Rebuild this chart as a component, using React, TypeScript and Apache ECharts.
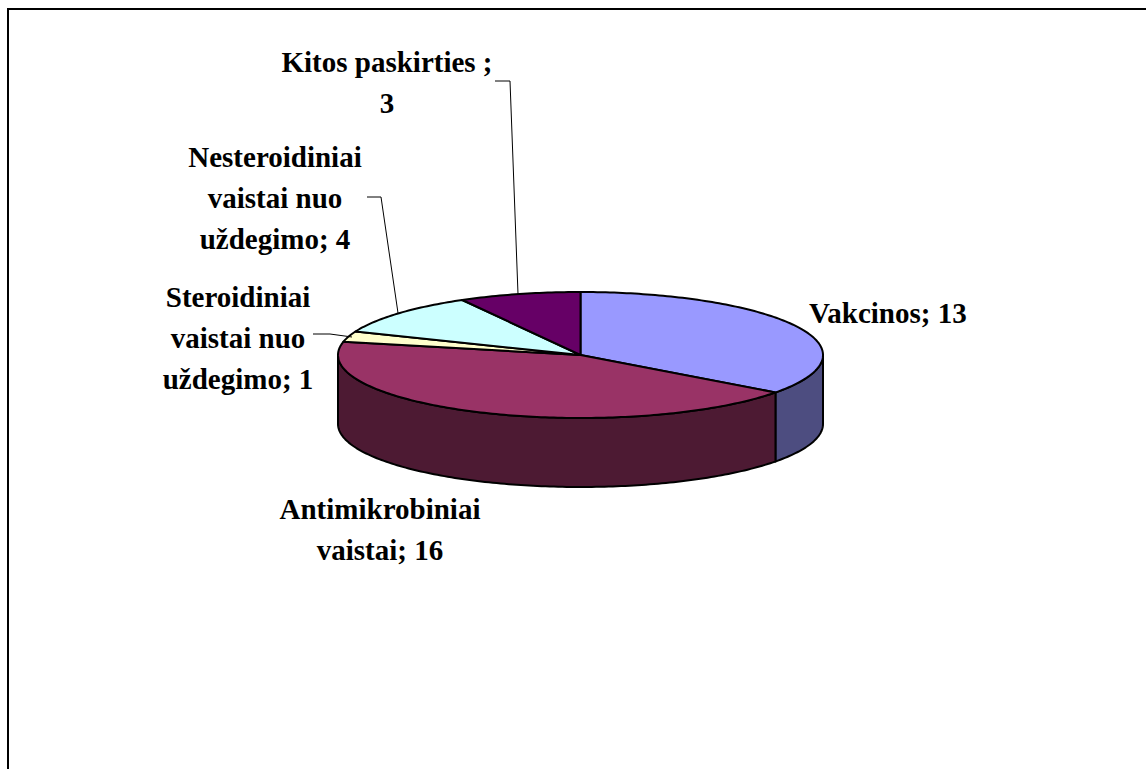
import React, { useEffect, useRef } from "react";
import * as echarts from "echarts";

const categories = ["Vakcinos", "Antimikrobiniai vaistai", "Steroidiniai vaistai nuo uždegimo", "Nesteroidiniai vaistai nuo uždegimo", "Kitos paskirties "];
const values = [13, 16, 1, 4, 3];
const labelTexts = ["Vakcinos; 13", "Antimikrobiniai\nvaistai; 16", "Steroidiniai\nvaistai nuo\nuždegimo; 1", "Nesteroidiniai\nvaistai nuo\nuždegimo; 4", "Kitos paskirties ;\n3"];
const topColors = ["#9999FF", "#993366", "#FFFFCC", "#CCFFFF", "#660066"];
const sideColors = ["#4D4D80", "#4D1A33", "#80806A", "#6A8080", "#330033"];

const CX = 580.5, CY = 355, RX = 242.5, RY = 63, DEPTH = 69;
const labelPos: [number, number, string][] = [
  [809, 312, "left"],
  [380, 508, "center"],
  [238, 296, "center"],
  [275, 156, "center"],
  [387, 61, "center"],
];
const leaders: ([number, number][] | null)[] = [
  null,
  null,
  [[313, 334], [330, 334], [352, 337]],
  [[367, 197], [381, 197], [398, 313]],
  [[495, 81], [510, 81], [518, 294]],
];

const total = values.reduce((a, b) => a + b, 0);
const startDeg = (i: number) => (values.slice(0, i).reduce((a, b) => a + b, 0) / total) * 360;
const rim = (deg: number, dy = 0): [number, number] => {
  const r = (deg * Math.PI) / 180;
  return [CX + RX * Math.sin(r), CY - RY * Math.cos(r) + dy];
};
const arc = (a: number, b: number, dy = 0) => {
  const pts: [number, number][] = [];
  const n = Math.max(2, Math.ceil(Math.abs(b - a)));
  for (let k = 0; k <= n; k++) pts.push(rim(a + ((b - a) * k) / n, dy));
  return pts;
};
const seriesData = values.map((v, i) => ({ name: categories[i], value: v }));

export default function App() {
  const ref = useRef<HTMLDivElement>(null);
  useEffect(() => {
    document.body.style.margin = "0";
    const chart = echarts.init(ref.current!, undefined, { renderer: "svg" });
    chart.setOption({
      animation: false,
      graphic: [
        {
          type: "polyline",
          shape: { points: [[8, 769], [8, 9], [1146, 9]] },
          style: { stroke: "#000", lineWidth: 2, fill: "none" },
          silent: true,
        },
      ],
      series: [
        {
          type: "custom",
          coordinateSystem: "none",
          silent: true,
          z: 1,
          data: seriesData,
          renderItem: (params: any) => {
            const i = params.dataIndex;
            const a = Math.max(startDeg(i), 90);
            const b = Math.min(startDeg(i + 1), 270);
            if (b <= a) return { type: "group", children: [] };
            const points = [...arc(a, b), ...arc(b, a, DEPTH)];
            return { type: "polygon", shape: { points }, style: { fill: sideColors[i], stroke: "#000", lineWidth: 2, lineJoin: "round" } };
          },
        },
        {
          type: "custom",
          coordinateSystem: "none",
          silent: true,
          z: 2,
          data: seriesData,
          renderItem: (params: any) => {
            const i = params.dataIndex;
            const points = [[CX, CY], ...arc(startDeg(i), startDeg(i + 1))];
            return { type: "polygon", shape: { points }, style: { fill: topColors[i], stroke: "#000", lineWidth: 2, lineJoin: "round" } };
          },
        },
        {
          type: "custom",
          coordinateSystem: "none",
          silent: true,
          z: 3,
          data: seriesData,
          renderItem: (params: any) => {
            const i = params.dataIndex;
            const [x, y, align] = labelPos[i];
            const children: any[] = [
              {
                type: "text",
                x,
                y: y - 20,
                style: {
                  text: labelTexts[i],
                  font: 'bold 29px "Liberation Serif"',
                  lineHeight: 41,
                  fill: "#000",
                  align,
                  verticalAlign: "top",
                },
              },
            ];
            if (leaders[i]) {
              children.push({
                type: "polyline",
                shape: { points: leaders[i] },
                style: { stroke: "#000", lineWidth: 1, fill: "none" },
              });
            }
            return { type: "group", children };
          },
        },
      ],
    });
    return () => chart.dispose();
  }, []);
  return <div ref={ref} style={{ width: 1146, height: 769, background: "#fff" }} />;
}
